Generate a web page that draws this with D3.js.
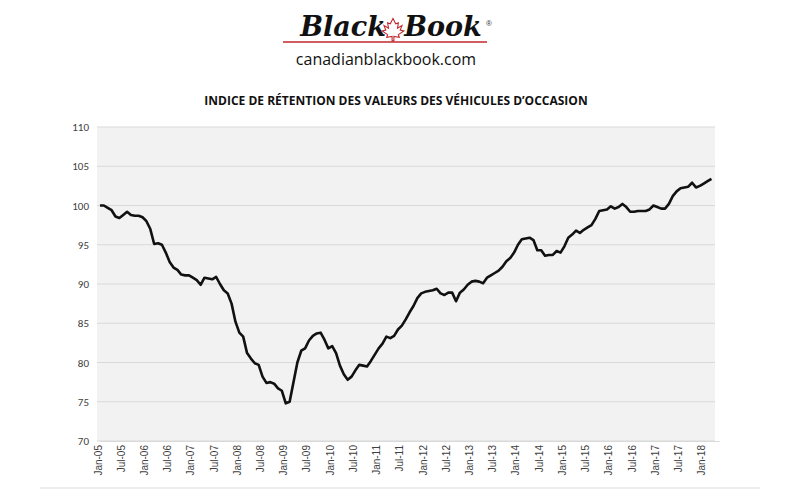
<!DOCTYPE html>
<html><head><meta charset="utf-8">
<script src="https://cdn.jsdelivr.net/npm/d3@7"></script>
<style>body{margin:0;background:#fff}</style></head>
<body><svg id="c" width="800" height="500"></svg>
<script>
const startYear = 2005;
const values = [
100,100,99.7,99.4,98.6,98.4,98.8,99.2,98.8,98.7,98.7,98.5,
98,97,95.1,95.2,95,94,92.8,92.1,91.8,91.2,91.1,91.1,
90.8,90.5,89.9,90.8,90.7,90.6,90.9,90,89.2,88.8,87.5,85.2,
83.8,83.3,81.2,80.5,79.9,79.7,78.2,77.4,77.5,77.3,76.7,76.4,
74.8,75,77.5,80,81.5,81.8,82.8,83.4,83.7,83.8,82.9,81.8,
82.1,81.2,79.6,78.5,77.8,78.2,79,79.7,79.6,79.5,80.2,81,
81.8,82.4,83.3,83.1,83.4,84.2,84.7,85.5,86.4,87.2,88.2,88.8,
89,89.1,89.2,89.4,88.8,88.6,88.9,88.9,87.8,88.9,89.3,89.9,
90.3,90.4,90.3,90.1,90.8,91.1,91.4,91.7,92.2,92.9,93.3,94,
95,95.7,95.8,95.9,95.6,94.3,94.3,93.6,93.7,93.7,94.2,94,
94.8,95.9,96.3,96.8,96.5,96.9,97.2,97.5,98.3,99.3,99.4,99.5,
99.9,99.6,99.8,100.2,99.8,99.2,99.2,99.3,99.3,99.3,99.5,100,
99.8,99.6,99.6,100.2,101.2,101.8,102.2,102.3,102.4,102.9,102.3,102.5,
102.8,103.1,103.4
];
const monthNames = ["Jan","Feb","Mar","Apr","May","Jun","Jul","Aug","Sep","Oct","Nov","Dec"];
const yTicks = [70,75,80,85,90,95,100,105,110];
const title = "INDICE DE RÉTENTION DES VALEURS DES VÉHICULES D’OCCASION";

const svg = d3.select("#c");
const L=97,R=715,T=127,B=441;
const x = d3.scaleLinear().domain([0,160]).range([L+3,L+3+160*3.87]);
const y = d3.scaleLinear().domain([70,110]).range([B,T]);

svg.append("rect").attr("x",L).attr("y",T).attr("width",R-L).attr("height",B-T).attr("fill","#f2f2f2");
svg.selectAll(".g").data(yTicks).enter().append("line")
 .attr("x1",L).attr("x2",R).attr("y1",d=>y(d)).attr("y2",d=>y(d)).attr("stroke","#d9d9d9").attr("stroke-width",1);

const ya = svg.append("g").attr("transform",`translate(${L},0)`)
 .call(d3.axisLeft(y).tickValues(yTicks).tickSize(0).tickPadding(8));
ya.select(".domain").remove();
ya.selectAll("text").attr("font-family","Calibri, Carlito, 'Liberation Sans', sans-serif").attr("font-size",11).attr("fill","#404040");

const tickIdx = d3.range(0,160,6);
const xa = svg.append("g").attr("transform",`translate(0,${B})`)
 .call(d3.axisBottom(x).tickValues(tickIdx).tickSize(0).tickPadding(6)
   .tickFormat(i=>monthNames[i%12]+"-"+String((startYear+Math.floor(i/12))%100).padStart(2,"0")));
xa.select(".domain").attr("stroke","#d9d9d9");
xa.selectAll("text").attr("font-family","'Liberation Sans', sans-serif").attr("font-size",10).attr("fill","#404040")
 .attr("transform","rotate(-90)").attr("text-anchor","end").attr("dx","-4").attr("dy","-0.3em").attr("x",0).attr("y",4);

svg.append("path").datum(values)
 .attr("d",d3.line().x((d,i)=>x(i)).y(d=>y(d)))
 .attr("fill","none").attr("stroke","#111").attr("stroke-width",2.6).attr("stroke-linejoin","round");

svg.append("line").attr("x1",40).attr("x2",760).attr("y1",488).attr("y2",488).attr("stroke","#ddd");

// Logo
svg.append("text").attr("x",343).attr("y",36).attr("text-anchor","middle")
 .attr("font-family","'DejaVu Serif', serif").attr("font-style","italic").attr("font-weight","bold").attr("font-size",27).attr("fill","#111").text("Black");
svg.append("text").attr("x",443).attr("y",36).attr("text-anchor","middle")
 .attr("font-family","'DejaVu Serif', serif").attr("font-style","italic").attr("font-weight","bold").attr("font-size",27).attr("fill","#111").text("Book");
svg.append("text").attr("x",486).attr("y",26).attr("font-size",8).attr("fill","#333").attr("font-family","sans-serif").text("®");
svg.append("path").attr("transform","translate(393,31) scale(0.9)")
 .attr("d","M0,-14 L3,-8 L6,-9 L5,-3 L10,-6 L8,-1 L12,0 L6,4 L7,7 L1,6 L1,11 L-1,11 L-1,6 L-7,7 L-6,4 L-12,0 L-8,-1 L-10,-6 L-5,-3 L-6,-9 L-3,-8 Z")
 .attr("fill","none").attr("stroke","#c0282d").attr("stroke-width",1.2);
svg.append("line").attr("x1",283).attr("x2",487).attr("y1",42).attr("y2",42).attr("stroke","#c0282d").attr("stroke-width",1.5);
svg.append("text").attr("x",386).attr("y",65).attr("text-anchor","middle")
 .attr("font-family","'Open Sans', sans-serif").attr("font-size",16).attr("fill","#111").text("canadianblackbook.com");
svg.append("text").attr("x",396).attr("y",105).attr("text-anchor","middle")
 .attr("font-family","'Open Sans', sans-serif").attr("font-weight","bold").attr("font-size",12).attr("fill","#111").text(title);
</script></body></html>
